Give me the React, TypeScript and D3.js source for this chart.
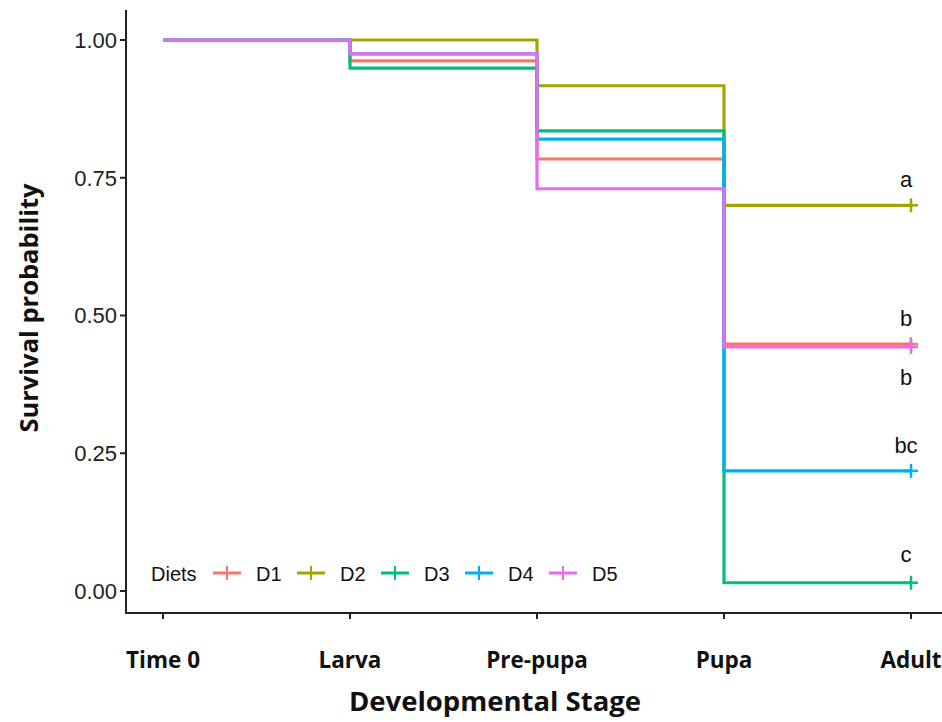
import React from 'react';
import * as d3 from 'd3';

const stages = ['Time 0', 'Larva', 'Pre-pupa', 'Pupa', 'Adult'];
const diets = ['D1', 'D2', 'D3', 'D4', 'D5'];
const colors = ['#F8766D', '#A3A500', '#00BF7D', '#00B0F6', '#E76BF3'];

// survival at each stage (value holds until the next stage)
const d1 = [1, 0.962, 0.784, 0.448, 0.448];
const d2 = [1, 1, 0.917, 0.7, 0.7];
const d3v = [1, 0.949, 0.835, 0.015, 0.015];
const d4 = [1, 0.975, 0.82, 0.218, 0.218];
const d5 = [1, 0.975, 0.73, 0.443, 0.443];
const series = [d1, d2, d3v, d4, d5];

const yTicks = [0, 0.25, 0.5, 0.75, 1];
const groupLetters = ['a', 'b', 'b', 'bc', 'c'];
const letterValues = [0.7, 0.448, 0.443, 0.218, 0.015];
const letterOffsets = [-26, -26, 30, -26, -28];

const W = 942;
const H = 722;
const sans = 'Liberation Sans, Arial, sans-serif';
const titleFont = 'Open Sans, sans-serif';

const App = () => {
  const x = d3.scaleLinear().domain([0, stages.length - 1]).range([163, 911]);
  const y = d3.scaleLinear().domain([0, 1]).range([591, 40]);

  const line = d3
    .line<number>()
    .x((_, i) => x(i))
    .y((v) => y(v))
    .curve(d3.curveStepAfter);

  const axisX0 = 126;
  const axisY0 = 613;

  return (
    <svg width={W} height={H} style={{ position: 'absolute', left: 0, top: 0, background: '#fff' }}>
      {/* y axis */}
      <line x1={axisX0} x2={axisX0} y1={10} y2={axisY0 + 1} stroke="#222" strokeWidth={2} />
      {yTicks.map((t) => (
        <g key={t}>
          <line x1={axisX0 - 6} x2={axisX0} y1={y(t)} y2={y(t)} stroke="#222" strokeWidth={2} />
          <text x={axisX0 - 9} y={y(t)} dy="0.36em" textAnchor="end" fontFamily={sans} fontSize={22} fill="#222">
            {d3.format('.2f')(t)}
          </text>
        </g>
      ))}
      {/* x axis */}
      <line x1={axisX0 - 1} x2={W} y1={axisY0} y2={axisY0} stroke="#222" strokeWidth={2} />
      {stages.map((s, i) => (
        <g key={s}>
          <line x1={x(i)} x2={x(i)} y1={axisY0} y2={axisY0 + 6} stroke="#222" strokeWidth={2} />
          <text x={x(i)} y={668} textAnchor="middle" fontFamily={titleFont} fontWeight="bold" fontSize={22.5} fill="#111">
            {s}
          </text>
        </g>
      ))}
      <text x={495} y={711} textAnchor="middle" fontFamily={titleFont} fontWeight="bold" fontSize={27.5} fill="#111">
        Developmental Stage
      </text>
      <text
        transform="translate(38, 308) rotate(-90)"
        textAnchor="middle"
        fontFamily={titleFont}
        fontWeight="bold"
        fontSize={25.5}
        fill="#111"
      >
        Survival probability
      </text>

      {/* survival curves */}
      {series.map((s, k) => (
        <path key={diets[k]} d={line(s) || ''} fill="none" stroke={colors[k]} strokeWidth={3.2} />
      ))}
      {/* censor marks */}
      {series.map((s, k) => {
        const cx = x(stages.length - 1);
        const cy = y(s[s.length - 1]);
        return (
          <g key={'c' + k} stroke={colors[k]} strokeWidth={2.5}>
            <line x1={cx - 7} x2={cx + 7} y1={cy} y2={cy} />
            <line x1={cx} x2={cx} y1={cy - 7} y2={cy + 7} />
          </g>
        );
      })}
      {/* group letters */}
      {groupLetters.map((g, i) => (
        <text
          key={i}
          x={x(stages.length - 1) - 5}
          y={y(letterValues[i]) + letterOffsets[i]}
          dy="0.35em"
          textAnchor="middle"
          fontFamily={sans}
          fontSize={22}
          fill="#111"
        >
          {g}
        </text>
      ))}

      {/* legend */}
      <text x={151} y={574} dy="0.36em" fontFamily={sans} fontSize={20} fill="#111">
        Diets
      </text>
      {diets.map((d, k) => {
        const lx = 213 + k * 84;
        const ly = 573;
        return (
          <g key={d}>
            <g stroke={colors[k]} strokeWidth={3}>
              <line x1={lx} x2={lx + 28} y1={ly} y2={ly} />
              <line x1={lx + 14} x2={lx + 14} y1={ly - 7} y2={ly + 7} strokeWidth={2} />
            </g>
            <text x={lx + 43} y={ly + 1} dy="0.36em" fontFamily={sans} fontSize={20} fill="#111">
              {d}
            </text>
          </g>
        );
      })}
    </svg>
  );
};

export default App;
